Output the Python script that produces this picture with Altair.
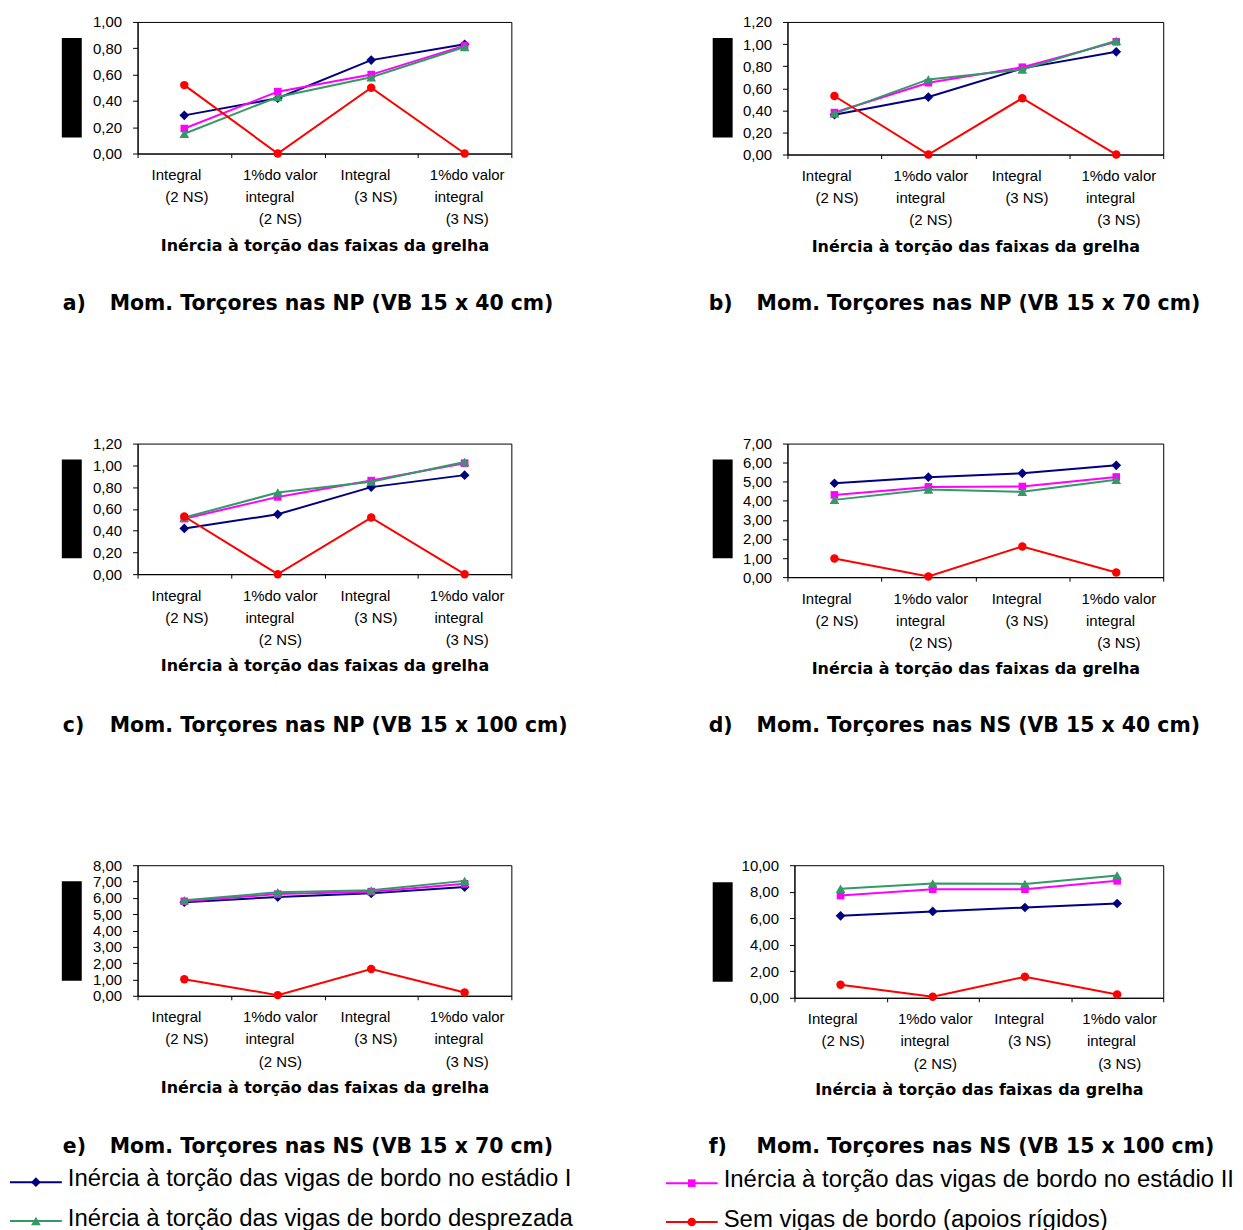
import json
import altair as alt
import pandas as pd

# ---------------- data ----------------
CATEGORIES = ["Integral (2 NS)", "1%do valor integral (2 NS)",
              "Integral (3 NS)", "1%do valor integral (3 NS)"]
CATEGORY_LINES = [["Integral", "(2 NS)"],
                  ["1%do valor", "integral", "(2 NS)"],
                  ["Integral", "(3 NS)"],
                  ["1%do valor", "integral", "(3 NS)"]]
SERIES = ["Inércia à torção das vigas de bordo no estádio I",
          "Inércia à torção das vigas de bordo no estádio II",
          "Inércia à torção das vigas de bordo desprezada",
          "Sem vigas de bordo (apoios rígidos)"]
X_TITLE = "Inércia à torção das faixas da grelha"

A_EST_I = [0.29, 0.42, 0.71, 0.83]
A_EST_II = [0.19, 0.47, 0.60, 0.82]
A_DESP = [0.15, 0.43, 0.58, 0.81]
A_SEM = [0.52, 0.00, 0.50, 0.00]

B_EST_I = [0.36, 0.52, 0.78, 0.93]
B_EST_II = [0.38, 0.65, 0.79, 1.02]
B_DESP = [0.37, 0.68, 0.77, 1.03]
B_SEM = [0.53, 0.00, 0.51, 0.00]

C_EST_I = [0.42, 0.55, 0.80, 0.91]
C_EST_II = [0.51, 0.71, 0.86, 1.02]
C_DESP = [0.52, 0.75, 0.85, 1.03]
C_SEM = [0.53, 0.00, 0.52, 0.00]

D_EST_I = [4.92, 5.24, 5.44, 5.86]
D_EST_II = [4.31, 4.73, 4.75, 5.25]
D_DESP = [4.05, 4.59, 4.47, 5.10]
D_SEM = [0.98, 0.03, 1.61, 0.24]

E_EST_I = [5.73, 6.05, 6.28, 6.66]
E_EST_II = [5.79, 6.23, 6.38, 6.86]
E_DESP = [5.85, 6.34, 6.46, 7.04]
E_SEM = [1.01, 0.04, 1.64, 0.20]

F_EST_I = [6.18, 6.51, 6.81, 7.11]
F_EST_II = [7.71, 8.19, 8.19, 8.82]
F_DESP = [8.22, 8.62, 8.59, 9.22]
F_SEM = [0.98, 0.08, 1.58, 0.25]

LETTERS = ["a)", "b)", "c)", "d)", "e)", "f)"]
TITLES = ["Mom. Torçores nas NP (VB 15 x 40 cm)",
          "Mom. Torçores nas NP (VB 15 x 70 cm)",
          "Mom. Torçores nas NP (VB 15 x 100 cm)",
          "Mom. Torçores nas NS (VB 15 x 40 cm)",
          "Mom. Torçores nas NS (VB 15 x 70 cm)",
          "Mom. Torçores nas NS (VB 15 x 100 cm)"]
Y_MAX = [1.0, 1.2, 1.2, 7.0, 8.0, 10.0]
Y_STEP = [0.2, 0.2, 0.2, 1.0, 1.0, 2.0]
VALUES = [[A_EST_I, A_EST_II, A_DESP, A_SEM],
          [B_EST_I, B_EST_II, B_DESP, B_SEM],
          [C_EST_I, C_EST_II, C_DESP, C_SEM],
          [D_EST_I, D_EST_II, D_DESP, D_SEM],
          [E_EST_I, E_EST_II, E_DESP, E_SEM],
          [F_EST_I, F_EST_II, F_DESP, F_SEM]]

# ---------------- style ----------------
COLORS = ["#000080", "#FF00FF", "#339966", "#FF0000"]
SHAPES = ["diamond", "square", "triangle-up", "circle"]
SIZES = [95, 58, 95, 72]
SANS = "Liberation Sans"
BOLD = "DejaVu Sans"
NB = "\u00a0"
ZW = "\u200b"  # keeps the nbsp padding from being trimmed

# nbsp padding (lead, trail) per label line to mimic the original's offsets
PAD = [[(0, 4), (1, 0)], [(1, 0), (0, 4), (1, 0)], [(0, 3), (2, 0)], [(1, 0), (0, 3), (1, 0)]]


def pad_line(text, lead, trail):
    s = text
    if lead:
        s = ZW + NB * lead + s
    if trail:
        s = s + NB * trail + ZW
    return s


LINES_PADDED = [[pad_line(ln, *p) for ln, p in zip(lines, pads)]
                for lines, pads in zip(CATEGORY_LINES, PAD)]
X_LABEL_EXPR = "{}[indexof({}, datum.value)]".format(
    json.dumps(LINES_PADDED, ensure_ascii=False), json.dumps(CATEGORIES, ensure_ascii=False))
Y_LABEL_EXPR = "replace(format(datum.value, '.2f'), '.', ',')"

WIDTHS = [375, 377, 375, 377, 375, 370]
HEIGHTS = [132, 133, 131, 134, 131, 133]
# per-panel offsets (relative to plot area)
LETTER_X = [-75, -79, -75, -79, -75, -86]
TITLE_X = [-28, -31, -28, -31, -28, -38]
TITLE_Y = 289
BOX_X = [(-76, -56), (-75, -55), (-76, -56), (-75, -55), (-76, -56), (-82, -62)]
BOX_Y = [(16, 116), (16, 116), (16, 115), (16, 115), (16, 116), (17, 117)]

ONE = pd.DataFrame({"k": [0]})


def text_layer(s, x, y, size, font, weight="normal"):
    return alt.Chart(ONE).mark_text(
        text=s, align="left", baseline="alphabetic", font=font, fontSize=size,
        fontWeight=weight, color="black").encode(x=alt.value(x), y=alt.value(y))


def legend_entry(idx, x0, y_line, y_text):
    rule = alt.Chart(ONE).mark_rule(color=COLORS[idx], strokeWidth=2).encode(
        x=alt.value(x0), x2=alt.value(x0 + 52), y=alt.value(y_line))
    pt = alt.Chart(ONE).mark_point(shape=SHAPES[idx], filled=True, size=SIZES[idx],
                                   color=COLORS[idx], opacity=1).encode(
        x=alt.value(x0 + 26), y=alt.value(y_line))
    txt = text_layer(SERIES[idx], x0 + 58, y_text, 24, SANS)
    return [rule, pt, txt]


def make_panel(i, extra=None):
    ymax, step = Y_MAX[i], Y_STEP[i]
    ticks = [round(k * step, 2) for k in range(int(round(ymax / step)) + 1)]
    xaxis = alt.Axis(title=X_TITLE, labelExpr=X_LABEL_EXPR, labelAngle=0, tickBand="extent",
                     tickSize=4, labelPadding=22, labelBaseline="alphabetic",
                     labelLineHeight=22.3, labelOverlap=False, titleY=97,
                     titleBaseline="alphabetic", grid=False)
    yaxis = alt.Axis(values=ticks, labelExpr=Y_LABEL_EXPR, title=None, tickSize=5,
                     labelPadding=11, labelFlush=False, labelOverlap=False, grid=False)
    xenc = alt.X("cat:N", scale=alt.Scale(type="band", domain=CATEGORIES,
                                           paddingInner=0, paddingOuter=0),
                 bandPosition=0.5, axis=xaxis)
    yenc = alt.Y("v:Q", scale=alt.Scale(domain=[0, ymax], nice=False), axis=yaxis)
    layers = []
    for s in range(4):
        df = pd.DataFrame({"cat": CATEGORIES, "v": VALUES[i][s]})
        base = alt.Chart(df)
        layers.append(base.mark_line(color=COLORS[s], strokeWidth=2).encode(x=xenc, y=yenc))
        layers.append(base.mark_point(shape=SHAPES[s], filled=True, size=SIZES[s],
                                      color=COLORS[s], opacity=1).encode(x=xenc, y=yenc))
    bx, by = BOX_X[i], BOX_Y[i]
    layers.append(alt.Chart(ONE).mark_rect(color="black").encode(
        x=alt.value(bx[0]), x2=alt.value(bx[1]), y=alt.value(by[0]), y2=alt.value(by[1])))
    layers.append(text_layer(LETTERS[i], LETTER_X[i], TITLE_Y, 20.5, BOLD, "bold"))
    layers.append(text_layer(TITLES[i], TITLE_X[i], TITLE_Y, 20.5, BOLD, "bold"))
    if extra:
        layers.extend(extra)
    return alt.layer(*layers).properties(width=WIDTHS[i], height=HEIGHTS[i])


legend_left = legend_entry(0, -128, 318, 322) + legend_entry(2, -128, 357, 362)
legend_right = legend_entry(1, -129, 319, 323) + legend_entry(3, -129, 358, 363)

pa = make_panel(0)
pb = make_panel(1)
pc = make_panel(2)
pd_ = make_panel(3)
pe = make_panel(4, legend_left)
pf = make_panel(5, legend_right)

row1 = alt.hconcat(pa, pb, spacing=277, bounds="flush")
row2 = alt.hconcat(pc, pd_, spacing=277, bounds="flush")
row3 = alt.hconcat(pe, pf, spacing=284, bounds="flush")

# nested rows count as zero height under flush bounds: spacing = row pitch
chart = alt.vconcat(row1, row2, row3, spacing=423, bounds="flush").properties(
    padding={"left": 0, "top": 4, "right": 0, "bottom": 0},
    background="white"
).configure_view(stroke="black", strokeWidth=1).configure_axis(
    domainColor="black", tickColor="black", labelColor="black", labelFont=SANS,
    labelFontSize=15, titleFont=BOLD, titleFontSize=16, titleFontWeight="bold",
    titleColor="black", domainWidth=1, tickWidth=1
)

chart.save("out.html", embed_options={"renderer": "svg", "actions": False})
